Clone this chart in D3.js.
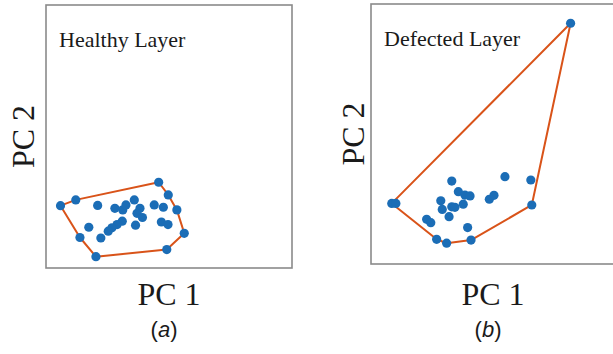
<!DOCTYPE html>
<html>
<head>
<meta charset="utf-8">
<script src="https://cdn.jsdelivr.net/npm/d3@7"></script>
<style>
  body { margin: 0; background: #fff; }
  svg { display: block; }
</style>
</head>
<body>
<svg id="chart" width="613" height="354"></svg>
<script>
// PC scores (arbitrary units, box = 0..100)
const healthyPC1 = [5.9, 12.1, 45.8, 49.7, 53.2, 56.2, 49.1, 20.3, 13.8,
  21.0, 17.4, 22.3, 28.0, 31.2, 32.5, 35.9, 38.2, 37.0, 39.2, 36.4, 44.0, 47.7, 46.9, 49.6, 31.0, 28.9, 26.8, 25.3];
const healthyPC2 = [23.7, 25.9, 32.6, 27.8, 22.1, 13.2, 7.0, 4.3, 11.6,
  23.8, 15.5, 11.4, 22.7, 22.1, 24.0, 25.9, 22.7, 20.8, 19.2, 16.3, 24.0, 23.1, 17.5, 16.5, 17.8, 16.5, 15.3, 14.0];

const defectPC1 = [8.5, 10.2, 81.8, 65.9, 41.0, 31.0, 26.9,
  33.1, 54.9, 65.5, 35.8, 38.5, 40.6, 28.6, 29.2, 33.1, 34.4, 37.8, 32.0, 48.5, 50.4, 22.8, 24.5, 39.6];
const defectPC2 = [23.3, 23.3, 92.6, 22.7, 9.2, 8.0, 9.5,
  31.9, 33.6, 32.3, 27.8, 26.5, 26.2, 24.3, 21.0, 22.0, 21.8, 23.0, 18.2, 24.9, 26.4, 17.2, 15.9, 14.0];

const panelTitles = ["Healthy Layer", "Defected Layer"];
const panelTags = ["a", "b"];

const BLUE = "#1b6db6";
const ORANGE = "#d95319";

const svg = d3.select("#chart");

const panels = [
  { x0: 46, y0: 5, w: 246, h: 263, xs: healthyPC1, ys: healthyPC2, title: panelTitles[0], tag: panelTags[0], ylabX: 23 },
  { x0: 371, y0: 4, w: 244, h: 260, xs: defectPC1, ys: defectPC2, title: panelTitles[1], tag: panelTags[1], ylabX: 353 }
];

panels.forEach(p => {
  const x = d3.scaleLinear().domain([0, 100]).range([p.x0, p.x0 + p.w]);
  const y = d3.scaleLinear().domain([0, 100]).range([p.y0 + p.h, p.y0]);
  const g = svg.append("g");

  g.append("rect")
    .attr("x", p.x0).attr("y", p.y0)
    .attr("width", p.w).attr("height", p.h)
    .attr("fill", "none")
    .attr("stroke", "#8a8a8a")
    .attr("stroke-width", 1.6);

  const pts = p.xs.map((v, i) => [x(v), y(p.ys[i])]);
  const hull = d3.polygonHull(pts);

  g.append("path")
    .attr("d", "M" + hull.join("L") + "Z")
    .attr("fill", "none")
    .attr("stroke", ORANGE)
    .attr("stroke-width", 2)
    .attr("stroke-linejoin", "round");

  g.selectAll("circle")
    .data(pts)
    .enter().append("circle")
    .attr("cx", d => d[0])
    .attr("cy", d => d[1])
    .attr("r", 4.6)
    .attr("fill", BLUE);

  g.append("text")
    .attr("x", p.x0 + 13)
    .attr("y", p.y0 + 42)
    .attr("font-family", "Liberation Serif, Times New Roman, serif")
    .attr("font-size", 22)
    .attr("fill", "#1a1a1a")
    .text(p.title);

  const cx = p.x0 + p.w / 2;
  g.append("text")
    .attr("x", cx)
    .attr("y", 305)
    .attr("text-anchor", "middle")
    .attr("font-family", "Liberation Serif, Times New Roman, serif")
    .attr("font-size", 32)
    .attr("fill", "#1a1a1a")
    .text("PC 1");

  g.append("text")
    .attr("transform", `translate(${p.ylabX + 11},${p.y0 + p.h / 2}) rotate(-90)`)
    .attr("text-anchor", "middle")
    .attr("font-family", "Liberation Serif, Times New Roman, serif")
    .attr("font-size", 32)
    .attr("fill", "#1a1a1a")
    .text("PC 2");

  const tag = g.append("text")
    .attr("x", cx - 5)
    .attr("y", 337)
    .attr("text-anchor", "middle")
    .attr("font-family", "Liberation Sans, Arial, sans-serif")
    .attr("font-size", 22)
    .attr("fill", "#1a1a1a");
  tag.append("tspan").text("(");
  tag.append("tspan").attr("font-style", "italic").text(p.tag);
  tag.append("tspan").text(")");
});
</script>
</body>
</html>
